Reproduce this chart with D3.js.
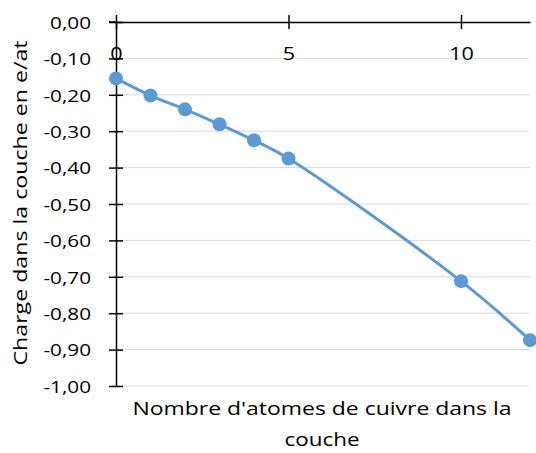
<!DOCTYPE html>
<html><head><meta charset="utf-8">
<script src="https://cdn.jsdelivr.net/npm/d3@7"></script>
<style>body{margin:0;background:#fff}svg{display:block}text{font-family:"Open Sans",sans-serif;fill:#000}</style>
</head><body><svg id="c" width="536" height="453"></svg>
<script>
const xValues = [0, 1, 2, 3, 4, 5, 10, 12];
const chargeValues = [-0.155, -0.202, -0.240, -0.281, -0.325, -0.375, -0.712, -0.874];
const xTicks = [0, 5, 10];
const yTicks = [0, -0.1, -0.2, -0.3, -0.4, -0.5, -0.6, -0.7, -0.8, -0.9, -1.0];
const yTitle = "Charge dans la couche en e/at";
const xTitleLines = ["Nombre d'atomes de cuivre dans la", "couche"];

const FONT = "'Open Sans',sans-serif";
const svg = d3.select("#c");
const x = d3.scaleLinear().domain([0, 12]).range([116, 530]);
const y = d3.scaleLinear().domain([-1, 0]).range([386, 22]);
const fmt = v => d3.format(".2f")(v).replace(".", ",").replace("−", "-");

svg.append("g").selectAll("line").data(yTicks.filter(v => v !== 0)).join("line")
  .attr("x1", x(0)).attr("x2", x(12)).attr("y1", d => y(d)).attr("y2", d => y(d))
  .attr("stroke", "#d9d9d9").attr("stroke-width", 1);

const ya = svg.append("g").attr("transform", `translate(${x(0)},0)`)
  .call(d3.axisLeft(y).tickValues(yTicks).tickFormat(fmt).tickSizeInner(7).tickSizeOuter(0));
ya.select(".domain").attr("stroke", "#000").attr("stroke-width", 1.5);
ya.selectAll(".tick line").attr("x2", 7).attr("x1", -7).attr("stroke-width", 1.5);
ya.selectAll(".tick text").attr("x", 0).attr("y", 0).attr("dy", 0)
  .attr("text-anchor", "end").attr("transform", "translate(-25,6.3) scale(1.22,1)")
  .style("font-size", "17px").style("font-family", FONT);

const xa = svg.append("g").attr("transform", `translate(0,${y(0)})`)
  .call(d3.axisBottom(x).tickValues(xTicks).tickFormat(d3.format("d")).tickSizeOuter(0).tickSizeInner(7));
xa.select(".domain").attr("stroke", "#000").attr("stroke-width", 1.5);
xa.selectAll(".tick line").attr("y1", -7).attr("y2", 7).attr("stroke-width", 1.5);
xa.selectAll(".tick text").attr("x", 0).attr("y", 0).attr("dy", 0)
  .attr("text-anchor", "middle").attr("transform", "translate(0,38) scale(1.2,1)")
  .style("font-size", "18px").style("font-family", FONT);
svg.append("line").attr("x1", x(0) - 7).attr("x2", x(0)).attr("y1", y(0)).attr("y2", y(0)).attr("stroke", "#000").attr("stroke-width", 1.5);

const pts = xValues.map((v, i) => [v, chargeValues[i]]);
svg.append("path").datum(pts)
  .attr("d", d3.line().x(d => x(d[0])).y(d => y(d[1])).curve(d3.curveCatmullRom.alpha(0.5)))
  .attr("fill", "none").attr("stroke", "#5B9BD5").attr("stroke-width", 3);
svg.append("g").selectAll("circle").data(pts).join("circle")
  .attr("cx", d => x(d[0])).attr("cy", d => y(d[1])).attr("r", 7).attr("fill", "#5B9BD5");

svg.append("text").attr("transform", `translate(27,203) rotate(-90)`).attr("text-anchor", "middle")
  .attr("textLength", 325).attr("lengthAdjust", "spacingAndGlyphs")
  .style("font-size", "19px").text(yTitle);
const xTitleLens = [379, 75];
svg.selectAll(".xt").data(xTitleLines).join("text").attr("class", "xt")
  .attr("x", 322).attr("y", (d, i) => 415 + i * 31).attr("text-anchor", "middle")
  .attr("textLength", (d, i) => xTitleLens[i]).attr("lengthAdjust", "spacingAndGlyphs")
  .style("font-size", "18.5px").text(d => d);
</script></body></html>
